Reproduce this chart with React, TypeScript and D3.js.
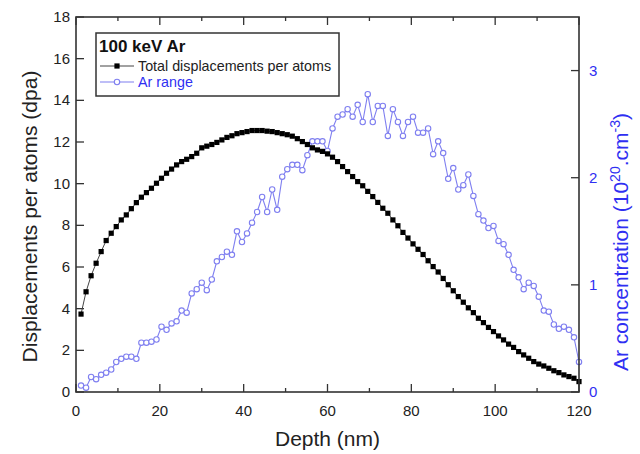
import React, { useEffect, useRef } from 'react';
import * as d3 from 'd3';

// depth bins (nm)
const depth = [
  1.2, 2.4, 3.6, 4.8, 6, 7.2, 8.4, 9.6, 10.8, 12,
  13.2, 14.4, 15.6, 16.8, 18, 19.2, 20.4, 21.6, 22.8, 24,
  25.2, 26.4, 27.6, 28.8, 30, 31.2, 32.4, 33.6, 34.8, 36,
  37.2, 38.4, 39.6, 40.8, 42, 43.2, 44.4, 45.6, 46.8, 48,
  49.2, 50.4, 51.6, 52.8, 54, 55.2, 56.4, 57.6, 58.8, 60,
  61.2, 62.4, 63.6, 64.8, 66, 67.2, 68.4, 69.6, 70.8, 72,
  73.2, 74.4, 75.6, 76.8, 78, 79.2, 80.4, 81.6, 82.8, 84,
  85.2, 86.4, 87.6, 88.8, 90, 91.2, 92.4, 93.6, 94.8, 96,
  97.2, 98.4, 99.6, 100.8, 102, 103.2, 104.4, 105.6, 106.8, 108,
  109.2, 110.4, 111.6, 112.8, 114, 115.2, 116.4, 117.6, 118.8, 120,
];

// total displacements per atom (dpa)
const dpa = [
  3.74, 4.81, 5.58, 6.18, 6.74, 7.27, 7.62, 7.94, 8.26, 8.5,
  8.8, 9.09, 9.35, 9.57, 9.78, 10.02, 10.26, 10.5, 10.7, 10.9,
  11.06, 11.17, 11.3, 11.46, 11.72, 11.8, 11.88, 11.98, 12.1, 12.22,
  12.3, 12.4, 12.45, 12.5, 12.55, 12.55, 12.55, 12.52, 12.5, 12.45,
  12.4, 12.35, 12.28, 12.16, 12.02, 11.88, 11.72, 11.62, 11.55, 11.43,
  11.27, 11.06, 10.82, 10.58, 10.34, 10.1, 9.9, 9.63, 9.38, 9.1,
  8.82, 8.58, 8.26, 7.98, 7.66, 7.39, 7.11, 6.85, 6.6, 6.3,
  6.02, 5.76, 5.45, 5.15, 4.86, 4.58, 4.31, 4.04, 3.81, 3.54,
  3.33, 3.1, 2.9, 2.69, 2.5, 2.3, 2.14, 1.94, 1.78, 1.62,
  1.46, 1.34, 1.25, 1.14, 1.02, 0.93, 0.82, 0.74, 0.66, 0.5,
];

// Ar concentration (1e20 cm-3)
const arConc = [
  0.06, 0.04, 0.14, 0.12, 0.16, 0.18, 0.21, 0.28, 0.31, 0.33,
  0.33, 0.31, 0.46, 0.46, 0.47, 0.49, 0.61, 0.58, 0.64, 0.66,
  0.76, 0.74, 0.92, 0.96, 1.02, 0.95, 1.05, 1.22, 1.26, 1.31,
  1.28, 1.5, 1.4, 1.48, 1.58, 1.68, 1.82, 1.68, 1.89, 1.7,
  2.01, 2.08, 2.12, 2.12, 2.07, 2.21, 2.34, 2.34, 2.34, 2.25,
  2.46, 2.57, 2.59, 2.64, 2.57, 2.68, 2.52, 2.78, 2.52, 2.67,
  2.67, 2.39, 2.64, 2.52, 2.39, 2.52, 2.57, 2.42, 2.42, 2.46,
  2.22, 2.34, 2.23, 1.99, 2.09, 1.89, 1.93, 2.03, 1.83, 1.66,
  1.6, 1.53, 1.55, 1.41, 1.38, 1.28, 1.14, 1.07, 0.96, 1.02,
  0.99, 0.89, 0.76, 0.75, 0.63, 0.59, 0.61, 0.58, 0.51, 0.28,
];

const xTicks = [0, 20, 40, 60, 80, 100, 120];
const xMinorTicks = [10, 30, 50, 70, 90, 110];
const yLeftTicks = [0, 2, 4, 6, 8, 10, 12, 14, 16, 18];
const yRightTicks = [0, 1, 2, 3];

const FONT = '"Liberation Sans", Arial, sans-serif';
const BLUE_TEXT = '#2f2ff2';
const BLUE_MARK = '#7f7ff0';
const AXIS = '#333';

export default function App() {
  const ref = useRef<SVGSVGElement | null>(null);

  useEffect(() => {
    const svg = d3.select(ref.current);
    svg.selectAll('*').remove();

    const left = 76, right = 579, top = 17, bottom = 392;
    const x = d3.scaleLinear().domain([0, 120]).range([left, right]);
    const yL = d3.scaleLinear().domain([0, 18]).range([bottom, top]);
    const yR = d3.scaleLinear().domain([0, 3.5]).range([bottom, top]);

    const g = svg.append('g');

    // ticks, pointing into the plot
    const tk = g.append('g').attr('stroke', AXIS).attr('stroke-width', 1.3);
    xTicks.forEach((t) => {
      tk.append('line').attr('x1', x(t)).attr('x2', x(t)).attr('y1', bottom).attr('y2', bottom - 8);
      tk.append('line').attr('x1', x(t)).attr('x2', x(t)).attr('y1', top).attr('y2', top + 8);
    });
    xMinorTicks.forEach((t) => {
      tk.append('line').attr('x1', x(t)).attr('x2', x(t)).attr('y1', bottom).attr('y2', bottom - 4);
      tk.append('line').attr('x1', x(t)).attr('x2', x(t)).attr('y1', top).attr('y2', top + 4);
    });
    yLeftTicks.forEach((t) => {
      tk.append('line').attr('x1', left).attr('x2', left + 8).attr('y1', yL(t)).attr('y2', yL(t));
    });
    yRightTicks.forEach((t) => {
      tk.append('line').attr('x1', right).attr('x2', right - 8).attr('y1', yR(t)).attr('y2', yR(t));
    });

    // Ar range
    const lineR = d3.line<number>().x((d, i) => x(depth[i])).y((d) => yR(d));
    g.append('path').datum(arConc).attr('d', lineR).attr('fill', 'none')
      .attr('stroke', BLUE_MARK).attr('stroke-width', 1.1);
    g.selectAll('circle.ar').data(arConc).enter().append('circle')
      .attr('class', 'ar')
      .attr('cx', (d, i) => x(depth[i])).attr('cy', (d) => yR(d)).attr('r', 2.7)
      .attr('fill', 'white').attr('stroke', BLUE_MARK).attr('stroke-width', 1.1);

    // dpa
    const lineL = d3.line<number>().x((d, i) => x(depth[i])).y((d) => yL(d));
    g.append('path').datum(dpa).attr('d', lineL).attr('fill', 'none')
      .attr('stroke', '#444').attr('stroke-width', 1);
    g.selectAll('rect.dpa').data(dpa).enter().append('rect')
      .attr('class', 'dpa')
      .attr('x', (d, i) => x(depth[i]) - 2.6).attr('y', (d) => yL(d) - 2.6)
      .attr('width', 5.2).attr('height', 5.2).attr('fill', '#000');

    // frame
    g.append('rect').attr('x', left).attr('y', top).attr('width', right - left).attr('height', bottom - top)
      .attr('fill', 'none').attr('stroke', AXIS).attr('stroke-width', 1.6);

    // tick labels
    xTicks.forEach((t) => {
      g.append('text').attr('x', x(t)).attr('y', 416).attr('text-anchor', 'middle')
        .attr('font-family', FONT).attr('font-size', 15).attr('fill', '#222').text(t);
    });
    yLeftTicks.forEach((t) => {
      g.append('text').attr('x', 70).attr('y', yL(t) + 5).attr('text-anchor', 'end')
        .attr('font-family', FONT).attr('font-size', 15).attr('fill', '#222').text(t);
    });
    yRightTicks.forEach((t) => {
      g.append('text').attr('x', 589).attr('y', yR(t) + 5).attr('text-anchor', 'start')
        .attr('font-family', FONT).attr('font-size', 15).attr('fill', BLUE_TEXT).text(t);
    });

    // axis titles
    g.append('text').attr('x', (left + right) / 2).attr('y', 446).attr('text-anchor', 'middle')
      .attr('font-family', FONT).attr('font-size', 21).attr('fill', '#222').text('Depth (nm)');
    g.append('text').attr('transform', `translate(37,${(top + bottom) / 2 + 12}) rotate(-90)`)
      .attr('text-anchor', 'middle').attr('font-family', FONT).attr('font-size', 21).attr('fill', '#222')
      .text('Displacements per atoms (dpa)');
    const rt = g.append('text').attr('transform', `translate(628,242) rotate(-90)`)
      .attr('text-anchor', 'middle').attr('font-family', FONT).attr('font-size', 21).attr('fill', BLUE_TEXT);
    rt.append('tspan').text('Ar concentration (10');
    rt.append('tspan').attr('dy', -8).attr('font-size', 14).text('20');
    rt.append('tspan').attr('dy', 8).text('.cm');
    rt.append('tspan').attr('dy', -8).attr('font-size', 14).text('-3');
    rt.append('tspan').attr('dy', 8).text(')');

    // legend
    const lg = g.append('g');
    lg.append('rect').attr('x', 96).attr('y', 33).attr('width', 243).attr('height', 63)
      .attr('fill', 'white').attr('stroke', AXIS).attr('stroke-width', 1.5);
    lg.append('text').attr('x', 99).attr('y', 52).attr('font-family', FONT).attr('font-size', 17)
      .attr('font-weight', 'bold').attr('fill', '#111').text('100 keV Ar');
    lg.append('line').attr('x1', 100).attr('x2', 134).attr('y1', 66).attr('y2', 66)
      .attr('stroke', '#444').attr('stroke-width', 1);
    lg.append('rect').attr('x', 114.4).attr('y', 63.4).attr('width', 5.2).attr('height', 5.2).attr('fill', '#000');
    lg.append('text').attr('x', 138).attr('y', 71).attr('font-family', FONT).attr('font-size', 14.3)
      .attr('fill', '#222').text('Total displacements per atoms');
    lg.append('line').attr('x1', 100).attr('x2', 134).attr('y1', 82).attr('y2', 82)
      .attr('stroke', BLUE_MARK).attr('stroke-width', 1.1);
    lg.append('circle').attr('cx', 117).attr('cy', 82).attr('r', 2.7)
      .attr('fill', 'white').attr('stroke', BLUE_MARK).attr('stroke-width', 1.1);
    lg.append('text').attr('x', 138).attr('y', 87).attr('font-family', FONT).attr('font-size', 14.3)
      .attr('fill', BLUE_TEXT).text('Ar range');
  }, []);

  return (
    <svg ref={ref} width={640} height={454}
      style={{ position: 'absolute', left: 0, top: 0, background: 'white' }} />
  );
}
